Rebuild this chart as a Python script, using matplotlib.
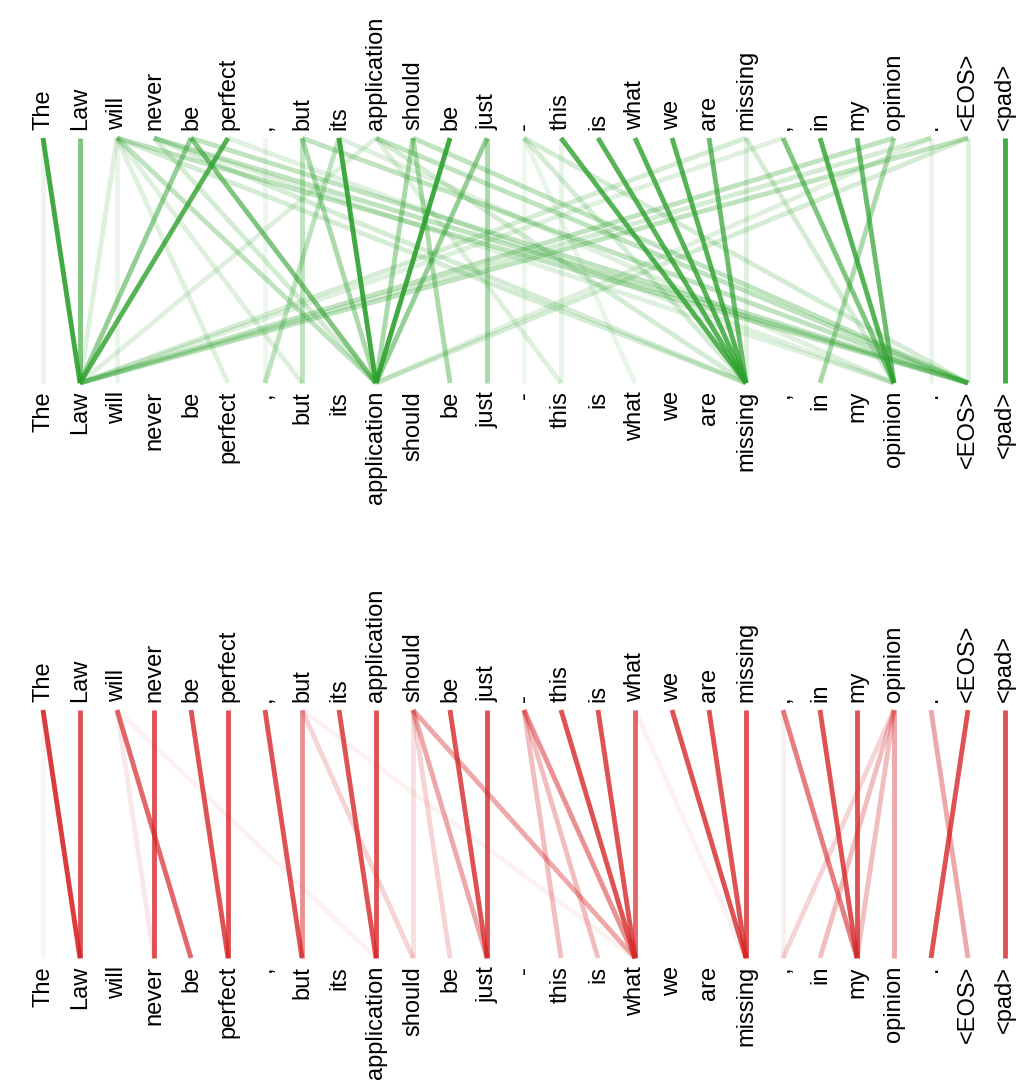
import matplotlib.pyplot as plt

plt.rcParams['font.family'] = ['Liberation Sans', 'DejaVu Sans']

tokens = ['The', 'Law', 'will', 'never', 'be', 'perfect', ',', 'but', 'its',
          'application', 'should', 'be', 'just', '-', 'this', 'is', 'what',
          'we', 'are', 'missing', ',', 'in', 'my', 'opinion', '.', '<EOS>', '<pad>']

# (source token on top, target token at bottom, weight)
green_links = [
    (0, 1, .9), (1, 1, .6), (5, 1, .8), (4, 1, .5), (4, 9, .6), (8, 9, .9),
    (11, 9, .9), (12, 9, .5), (10, 9, .4), (7, 9, .4), (2, 9, .3), (3, 9, .2),
    (14, 19, .8), (15, 19, .8), (16, 19, .8), (17, 19, .8), (18, 19, .7),
    (21, 23, .8), (22, 23, .7), (20, 23, .6), (23, 21, .4), (25, 1, .3),
    (24, 1, .2), (19, 1, .2), (23, 1, .3), (26, 26, .9), (3, 25, .3),
    (2, 25, .3), (7, 25, .3), (4, 25, .3), (9, 25, .3), (10, 25, .3),
    (13, 25, .2), (10, 11, .4), (12, 12, .4), (8, 6, .3), (7, 7, .3),
    (2, 19, .2), (3, 19, .2), (9, 19, .2), (13, 19, .2), (2, 2, .1),
    (2, 5, .15), (2, 7, .15), (14, 14, .1), (19, 19, .15), (25, 25, .15),
    (24, 24, .1), (13, 16, .1), (9, 14, .15), (25, 9, .2), (24, 9, .15),
    (20, 1, .15), (3, 23, .15), (5, 23, .15), (8, 23, .15), (19, 23, .2),
    (0, 0, .1), (13, 13, .08), (6, 6, .08), (2, 1, .15), (9, 1, .15),
]

red_links = [
    (0, 1, .9), (1, 1, .8), (2, 4, .7), (3, 3, .8), (4, 5, .8), (5, 5, .8),
    (6, 7, .8), (7, 7, .5), (8, 9, .8), (9, 9, .8), (10, 12, .4), (10, 16, .4),
    (10, 10, .15), (10, 11, .2), (7, 10, .2), (11, 12, .8), (12, 12, .8),
    (13, 16, .5), (13, 14, .3), (13, 15, .3), (14, 16, .8), (15, 16, .8),
    (16, 16, .7), (17, 19, .8), (18, 19, .8), (19, 19, .8), (20, 22, .6),
    (21, 22, .8), (22, 22, .8), (23, 20, .2), (23, 21, .3), (23, 22, .3),
    (23, 23, .4), (24, 25, .4), (25, 24, .8), (26, 26, .8), (2, 9, .06),
    (7, 16, .06), (0, 0, .05), (2, 3, .1), (16, 19, .06), (20, 20, .08),
]

fig = plt.figure(figsize=(10.33, 10.85), dpi=100)
ax = fig.add_axes([0, 0, 1, 1])
ax.set_xlim(0, 1033)
ax.set_ylim(1085, 0)
ax.axis('off')

x0, dx = 43, 37.0


def panel(links, color, ytop, ybot):
    for i, t in enumerate(tokens):
        x = x0 + i * dx
        ax.text(x, ytop - 8, t, rotation=90, ha='center', va='bottom', fontsize=17)
        ax.text(x, ybot + 8, t, rotation=90, ha='center', va='top', fontsize=17)
    for s, d, w in links:
        ax.plot([x0 + s * dx, x0 + d * dx], [ytop, ybot], color=color,
                alpha=w, lw=3.5, solid_capstyle='butt')


panel(green_links, '#2ca02c', 138, 383)
panel(red_links, '#d62728', 710, 958)

fig.savefig('out.png', dpi=100)
